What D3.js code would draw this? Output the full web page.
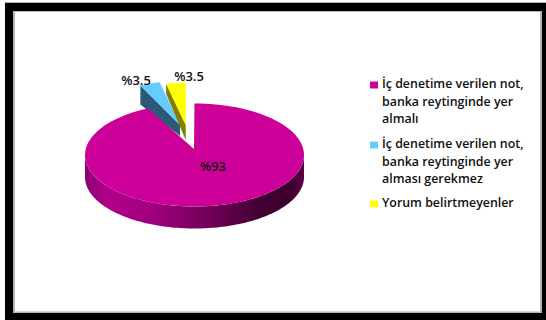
<!DOCTYPE html>
<html>
<head>
<meta charset="utf-8">
<script src="https://cdn.jsdelivr.net/npm/d3@7"></script>
<style>
html,body{margin:0;padding:0;background:#fff;}
svg{display:block;}
text{font-family:"Open Sans",sans-serif;font-weight:600;fill:#111;}
</style>
</head>
<body>
<svg id="chart" width="546" height="320"></svg>
<script>
// Survey answers, in percent
const categories = [
  ["İç denetime verilen not,", "banka reytinginde yer", "almalı"],
  ["İç denetime verilen not,", "banka reytinginde yer", "alması gerekmez"],
  ["Yorum belirtmeyenler"]
];
const shares = [93, 3.5, 3.5];
const valueLabels = ["%93", "%3.5", "%3.5"];

const topColors = ["#cc0099", "#66ccff", "#ffff00"];
const sideColors = ["#8a0068", "#2b5a78", "#808000"];

const svg = d3.select("#chart");

// Page frame
svg.append("rect").attr("x", 5).attr("y", 2).attr("width", 541).attr("height", 318).attr("fill", "#b5b5b5");
svg.append("rect").attr("x", 5).attr("y", 3).attr("width", 541).attr("height", 317).attr("fill", "#000");
svg.append("rect").attr("x", 13).attr("y", 11).attr("width", 529).attr("height", 302).attr("fill", "#b5b5b5");
svg.append("rect").attr("x", 15).attr("y", 12).attr("width", 525).attr("height", 299.5).attr("fill", "#fff");

// Tilted pie geometry
const RX = 109.5, RY = 51.5, WALL = 22;
const CENTER = [194.5, 155];
const wedgeLayout = [
  {center: CENTER,    apex: [194, 149],   scale: 1,    rimDrop: 0,  apexDrop: 0},
  {center: [180, 125], apex: [180, 125],  scale: 0.85, rimDrop: 19, apexDrop: 11},
  {center: [185.7, 125], apex: [185.7, 125], scale: 0.82, rimDrop: 10, apexDrop: 15}
];

const pie = d3.pie().sort(null).value(d => d);
const slices = pie(shares);

const rimPoint = (angle, layout, drop = 0) => [
  layout.center[0] + RX * layout.scale * Math.sin(angle),
  layout.center[1] - RY * layout.scale * Math.cos(angle) + drop
];
const sampleAngles = (a, b) => d3.range(0, 121).map(i => a + (b - a) * i / 120);
const outline = d3.line();

function topPath(slice, layout) {
  const rim = sampleAngles(slice.startAngle, slice.endAngle).map(a => rimPoint(a, layout));
  return outline([layout.apex, ...rim]) + "Z";
}

// Gradient across the outer wall of the large slice
const xPos = d3.scaleLinear().domain([0, 1]).range([CENTER[0] - RX, CENTER[0] + RX]);
const wallStops = [
  [0, "#8c0070"], [0.1, "#b0008a"], [0.3, "#a00080"], [0.55, "#74005a"],
  [0.8, "#420032"], [0.93, "#3a002a"], [1, "#5c0046"]
];
const grad = svg.append("defs").append("linearGradient")
  .attr("id", "wall").attr("gradientUnits", "userSpaceOnUse")
  .attr("x1", xPos(0)).attr("x2", xPos(1)).attr("y1", 0).attr("y2", 0);
grad.selectAll("stop").data(wallStops).join("stop")
  .attr("offset", d => d[0]).attr("stop-color", d => d[1]);

// The two small exploded slices sit behind the large one
[1, 2].forEach(i => {
  const s = slices[i], l = wedgeLayout[i];
  svg.append("path")
    .attr("d", outline([
      rimPoint(s.startAngle, l), l.apex,
      [l.apex[0], l.apex[1] + l.apexDrop],
      rimPoint(s.startAngle, l, l.rimDrop)
    ]) + "Z")
    .attr("fill", sideColors[i]);
  svg.append("path").attr("d", topPath(s, l)).attr("fill", topColors[i]);
});

// Outer wall and top face of the large slice
const big = wedgeLayout[0];
const upper = sampleAngles(Math.PI / 2, 3 * Math.PI / 2).map(a => rimPoint(a, big));
const lower = upper.map((_, k) => upper[upper.length - 1 - k]).map(p => [p[0], p[1] + WALL]);
svg.append("path").attr("d", outline([...upper, ...lower]) + "Z").attr("fill", "url(#wall)");
svg.append("path").attr("d", topPath(slices[0], big)).attr("fill", topColors[0]);

// Value labels
const labelPos = [[213, 168], [136, 82], [189, 78]];
svg.selectAll("text.value").data(valueLabels).join("text")
  .attr("class", "value")
  .attr("x", (d, i) => labelPos[i][0])
  .attr("y", (d, i) => labelPos[i][1])
  .attr("text-anchor", "middle")
  .attr("dominant-baseline", "middle")
  .attr("font-size", 13)
  .text(d => d);

// Legend
const legendTop = [85, 145, 204];
const LINE = 17.5;
categories.forEach((lines, i) => {
  svg.append("rect")
    .attr("x", 370).attr("y", legendTop[i] - 3.5)
    .attr("width", 8).attr("height", 7)
    .attr("fill", topColors[i]);
  svg.append("g").selectAll("text").data(lines).join("text")
    .attr("x", 382)
    .attr("y", (d, k) => legendTop[i] + k * LINE)
    .attr("dominant-baseline", "middle")
    .attr("font-size", 12.4)
    .text(d => d);
});
</script>
</body>
</html>
